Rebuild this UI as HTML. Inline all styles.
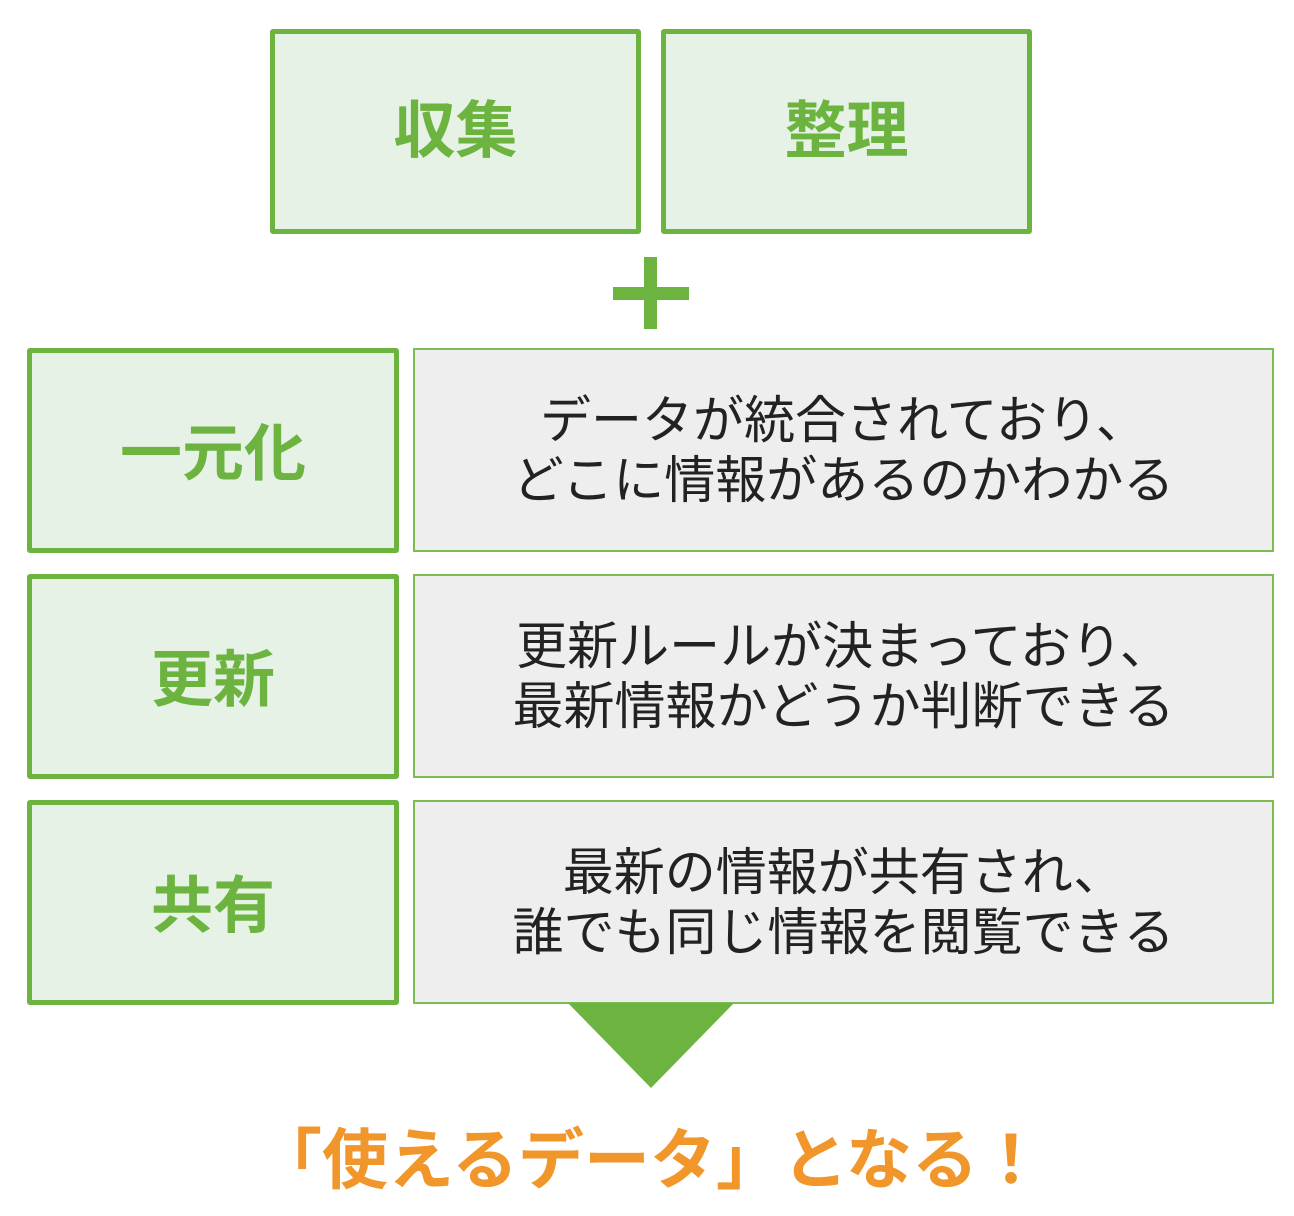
<!DOCTYPE html>
<html><head><meta charset="utf-8"><style>
body{margin:0;width:1294px;height:1216px;background:#fff;position:relative;overflow:hidden;font-family:"Liberation Sans","Noto Sans CJK JP",sans-serif}
.b{position:absolute;box-sizing:border-box;display:flex;align-items:center;justify-content:center;text-align:center}
.g{border:5px solid #6db33f;background:#e6f2e6;color:#6db33f;font-weight:bold;font-size:62px;border-radius:3px;padding-bottom:6px}
.w{border:2.5px solid #7dbb55;background:#eeeeee;color:#222;font-size:51px;line-height:60px;white-space:nowrap;padding-top:2px}
</style></head><body>
<div class="b g" style="left:270px;top:29px;width:371px;height:205px;padding-bottom:14px">収集</div>
<div class="b g" style="left:661px;top:29px;width:371px;height:205px;padding-bottom:14px">整理</div>
<div style="position:absolute;left:644px;top:257px;width:13px;height:72px;background:#6db33f"></div>
<div style="position:absolute;left:613px;top:287px;width:76px;height:13px;background:#6db33f"></div>

<div class="b g" style="left:27px;top:348px;width:372px;height:205px">一元化</div>
<div class="b w" style="left:413px;top:348px;width:861px;height:204px">データが統合されており、<br>どこに情報があるのかわかる</div>
<div class="b g" style="left:27px;top:574px;width:372px;height:205px">更新</div>
<div class="b w" style="left:413px;top:574px;width:861px;height:204px">更新ルールが決まっており、<br>最新情報かどうか判断できる</div>
<div class="b g" style="left:27px;top:800px;width:372px;height:205px">共有</div>
<div class="b w" style="left:413px;top:800px;width:861px;height:204px">最新の情報が共有され、<br>誰でも同じ情報を閲覧できる</div>

<svg style="position:absolute;left:0;top:0" width="1294" height="1216"><polygon points="568,1003 734,1003 651,1088" fill="#6db33f"/></svg>
<div style="position:absolute;left:0;width:1294px;top:1120px;text-align:center;color:#f0962a;font-weight:bold;font-size:66px;line-height:80px;white-space:nowrap;padding-left:6px;box-sizing:border-box">「使えるデータ」となる！</div>
</body></html>
